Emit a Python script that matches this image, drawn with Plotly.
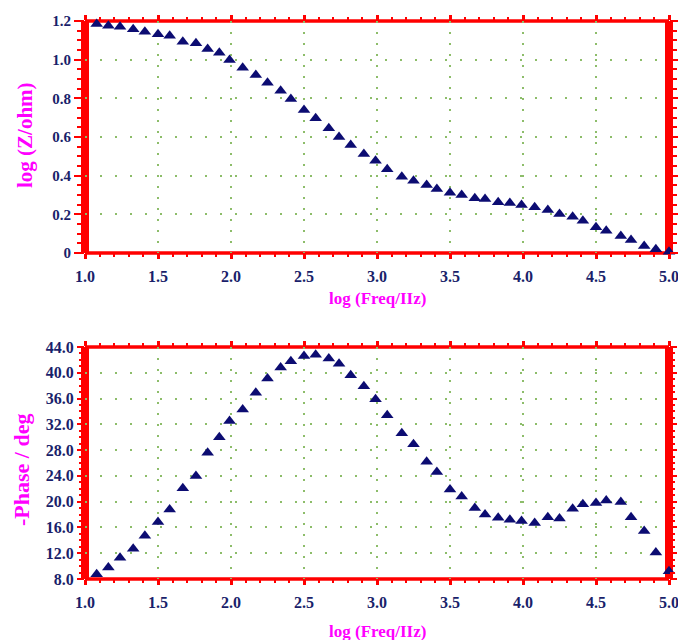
import plotly.graph_objects as go
from plotly.subplots import make_subplots

log_freq = [1.08, 1.16, 1.24, 1.33, 1.41, 1.50, 1.58, 1.67, 1.76, 1.84, 1.92, 1.99,
            2.08, 2.17, 2.25, 2.34, 2.41, 2.50, 2.58, 2.67, 2.74, 2.82, 2.91, 2.99,
            3.07, 3.17, 3.25, 3.34, 3.41, 3.50, 3.58, 3.67, 3.74, 3.83, 3.91, 3.99,
            4.08, 4.17, 4.25, 4.34, 4.41, 4.50, 4.57, 4.67, 4.74, 4.83, 4.91, 5.00]

log_z = [1.184, 1.176, 1.170, 1.157, 1.145, 1.131, 1.124, 1.093, 1.085, 1.055, 1.036, 0.998,
         0.958, 0.921, 0.881, 0.839, 0.797, 0.740, 0.697, 0.645, 0.600, 0.559, 0.512, 0.477,
         0.433, 0.395, 0.374, 0.352, 0.331, 0.312, 0.300, 0.283, 0.279, 0.262, 0.259, 0.248,
         0.236, 0.222, 0.202, 0.188, 0.167, 0.133, 0.115, 0.088, 0.067, 0.036, 0.019, 0.007]

phase = [8.73, 9.77, 11.3, 12.7, 14.7, 16.85, 18.8, 22.1, 24.0, 27.6, 30.0, 32.5,
         34.3, 36.9, 39.1, 40.8, 41.8, 42.6, 42.8, 42.2, 41.4, 39.6, 37.9, 35.9,
         33.4, 30.6, 28.9, 26.2, 24.6, 21.9, 20.8, 19.0, 18.0, 17.5, 17.2, 17.0,
         16.7, 17.6, 17.4, 18.9, 19.6, 19.8, 20.2, 19.95, 17.6, 15.45, 12.1, 9.2]

x_ticks = [1.0, 1.5, 2.0, 2.5, 3.0, 3.5, 4.0, 4.5, 5.0]
x_ticktext = ["1.0", "1.5", "2.0", "2.5", "3.0", "3.5", "4.0", "4.5", "5.0"]
z_ticks = [0, 0.2, 0.4, 0.6, 0.8, 1.0, 1.2]
z_ticktext = ["0", "0.2", "0.4", "0.6", "0.8", "1.0", "1.2"]
ph_ticks = [8, 12, 16, 20, 24, 28, 32, 36, 40, 44]
ph_ticktext = ["8.0", "12.0", "16.0", "20.0", "24.0", "28.0", "32.0", "36.0", "40.0", "44.0"]

RED = "#ff0000"
NAVY = "#0c0c72"
TICKC = "#1a1f6b"
MAG = "#ff00ff"
GRID = "#8dbd6a"
SERIF = "Liberation Serif"

W, H = 678, 640
L, R, T, B = 85, 9, 21, 61
ph = H - T - B
top_dom = [(579 - 253) / ph, 1.0]
bot_dom = [0.0, (579 - 347) / ph]

fig = make_subplots(rows=2, cols=1)

marker = dict(symbol="triangle-up", size=11, color=NAVY, line=dict(width=0))
fig.add_trace(go.Scatter(x=log_freq, y=log_z, mode="markers", marker=marker,
                         cliponaxis=False, showlegend=False), row=1, col=1)
fig.add_trace(go.Scatter(x=log_freq, y=phase, mode="markers", marker=marker,
                         cliponaxis=False, showlegend=False), row=2, col=1)

xcommon = dict(range=[1.0, 5.0], tickvals=x_ticks, ticktext=x_ticktext,
               showline=False, zeroline=False, automargin=False,
               ticks="outside", ticklen=5, tickwidth=3, tickcolor=RED,
               mirror="allticks", ticklabeloverflow="allow",
               minor=dict(dtick=0.1, tick0=1.0, ticks="outside", ticklen=3, tickwidth=2,
                          tickcolor=RED, showgrid=False),
               showgrid=True, gridcolor=GRID, gridwidth=1.5, griddash="2px,9px",
               tickfont=dict(family=SERIF, size=16, color=TICKC, weight="bold"),
               ticklabelstandoff=4)

fig.update_xaxes(domain=[0, 1], **xcommon)
fig.update_yaxes(row=1, col=1, domain=top_dom, range=[0, 1.2], tickvals=z_ticks,
                 ticktext=z_ticktext, showline=False, zeroline=False, automargin=False,
                 ticks="outside", ticklen=10, tickwidth=2, tickcolor=RED, mirror="allticks",
                 minor=dict(dtick=0.05, tick0=0, ticks="outside", ticklen=7, tickwidth=1.5,
                            tickcolor=RED, showgrid=False),
                 showgrid=True, gridcolor=GRID, gridwidth=1.5, griddash="2px,13px",
                 tickfont=dict(family=SERIF, size=15, color=TICKC, weight="bold"))
fig.update_yaxes(row=2, col=1, domain=bot_dom, range=[8, 44], tickvals=ph_ticks,
                 ticktext=ph_ticktext, showline=False, zeroline=False, automargin=False,
                 ticks="outside", ticklen=7, tickwidth=2, tickcolor=RED, mirror="allticks",
                 minor=dict(dtick=1, tick0=8, ticks="outside", ticklen=5, tickwidth=1.5,
                            tickcolor=RED, showgrid=False),
                 showgrid=True, gridcolor=GRID, gridwidth=1.5, griddash="2px,13px",
                 tickfont=dict(family=SERIF, size=16, color=TICKC, weight="bold"))

# frame edges
for xr, yr in [("x", "y"), ("x2", "y2")]:
    xd, yd = xr + " domain", yr + " domain"
    fig.add_shape(type="line", xref=xd, yref=yd, x0=0, x1=0, y0=0, y1=1,
                  line=dict(color=RED, width=8), layer="below")
    fig.add_shape(type="line", xref=xd, yref=yd, x0=1, x1=1, y0=0, y1=1,
                  line=dict(color=RED, width=8), layer="below")
    fig.add_shape(type="line", xref=xd, yref=yd, x0=0, x1=1, y0=0, y1=0,
                  line=dict(color=RED, width=3.5), layer="below")
    fig.add_shape(type="line", xref=xd, yref=yd, x0=0, x1=1, y0=1, y1=1,
                  line=dict(color=RED, width=3.5), layer="below")

def px_x(p):
    return (p - L) / (W - L - R)

def px_y(p):
    return (H - B - p) / ph

title_font_h = dict(family=SERIF, size=17, color=MAG, weight="bold")
title_font_v = dict(family=SERIF, size=21, color=MAG, weight="bold")
ann = [
    dict(text="log (Freq/IIz)", x=px_x(377), y=px_y(298), font=title_font_h, textangle=0),
    dict(text="log (Freq/IIz)", x=px_x(377), y=px_y(631), font=title_font_h, textangle=0),
    dict(text="log (Z/ohm)", x=px_x(25), y=px_y(135), font=title_font_v, textangle=-90),
    dict(text="-Phase / deg", x=px_x(21), y=px_y(470), font=dict(title_font_v, size=22),
         textangle=-90),
]
for a in ann:
    fig.add_annotation(xref="paper", yref="paper", xanchor="center", yanchor="middle",
                       showarrow=False, **a)

fig.update_layout(width=W, height=H, margin=dict(l=L, r=R, t=T, b=B),
                  plot_bgcolor="white", paper_bgcolor="white")

fig.write_html("out.html")
